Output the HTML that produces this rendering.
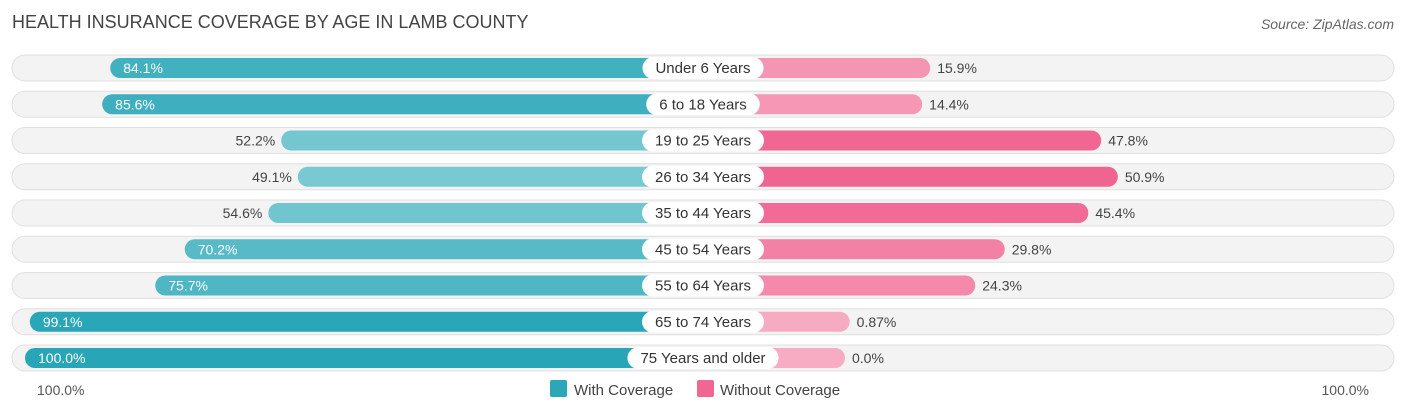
<!DOCTYPE html>
<html><head><meta charset="utf-8"><style>
body{margin:0;background:#fff;font-family:"Liberation Sans",sans-serif;}
#c{position:relative;width:1406px;height:414px;}
</style></head><body>
<div id="c">
<svg width="1406" height="414">
<text x="12" y="28" font-size="18" fill="#444">HEALTH INSURANCE COVERAGE BY AGE IN LAMB COUNTY</text>
<text x="1394" y="29" font-size="14" fill="#666" font-style="italic" text-anchor="end">Source: ZipAtlas.com</text>
<g id="rows"></g>
<text x="37" y="395" font-size="14" fill="#555">100.0%</text>
<text x="1369" y="395" font-size="14" fill="#555" text-anchor="end">100.0%</text>
<rect x="550" y="380" width="17" height="17" rx="2" fill="#2ba7b8"/>
<text x="574" y="395" font-size="15" fill="#444">With Coverage</text>
<rect x="697" y="380" width="17" height="17" rx="2" fill="#f06792"/>
<text x="720" y="395" font-size="15" fill="#444">Without Coverage</text>
</svg></div>
<script>
const categories=["Under 6 Years","6 to 18 Years","19 to 25 Years","26 to 34 Years","35 to 44 Years","45 to 54 Years","55 to 64 Years","65 to 74 Years","75 Years and older"];
const withCov=[84.1,85.6,52.2,49.1,54.6,70.2,75.7,99.1,100.0];
const withoutCov=[15.9,14.4,47.8,50.9,45.4,29.8,24.3,0.87,0.0];
const withLabels=["84.1%","85.6%","52.2%","49.1%","54.6%","70.2%","75.7%","99.1%","100.0%"];
const withoutLabels=["15.9%","14.4%","47.8%","50.9%","45.4%","29.8%","24.3%","0.87%","0.0%"];
const NS="http://www.w3.org/2000/svg";
const g=document.getElementById('rows');
const cx=703,off=142,sc=5.36,y0=68,dy=36.25;
function lx(v){return cx-off-v*sc;}
function rx(v){return cx+off+v*sc;}
function mix(a,b,t){return 'rgb('+a.map((x,i)=>Math.round(x+(b[i]-x)*t)).join(',')+')';}
function el(tag,attrs,name){const e=document.createElementNS(NS,tag);for(const k in attrs)e.setAttribute(k,attrs[k]);


g.appendChild(e);return e;}
categories.forEach((c,i)=>{
const y=y0+i*dy;
el('rect',{x:12,y:y-13,width:1382,height:26,rx:13,fill:'#f3f3f3',stroke:'#e0e0e0'},'row-background');
const wv=withCov[i],nv=withoutCov[i];
const tw=Math.min(1,Math.max(0,(wv-45)/55));
const l=lx(wv);
el('rect',{x:l,y:y-10,width:cx-l,height:20,rx:10,fill:mix([128,204,212],[40,165,183],tw)},'bar-with-coverage');
const tn=Math.min(1,Math.max(0,nv/50));
const r=rx(nv);
el('rect',{x:cx,y:y-10,width:r-cx,height:20,rx:10,fill:mix([247,172,196],[240,100,145],tn)},'bar-without-coverage');
const lab=el('text',{x:cx,y:y+5,'font-size':15,fill:'#333','text-anchor':'middle'},'category-label');
lab.textContent=c;
const w=lab.getComputedTextLength()+26;
const bg=el('rect',{x:cx-w/2,y:y-11,width:w,height:22,rx:11,fill:'#fff'},'category-label-bg');
g.appendChild(lab);
let t;
if(wv>=65){t=el('text',{x:l+13,y:y+5,'font-size':14,fill:'#fff'},'value-with-coverage');}
else{t=el('text',{x:l-6,y:y+5,'font-size':14,fill:'#444','text-anchor':'end'},'value-with-coverage');}
t.textContent=withLabels[i];
const t2=el('text',{x:r+7,y:y+5,'font-size':14,fill:'#444'},'value-without-coverage');
t2.textContent=withoutLabels[i];
});
</script>
</body></html>
